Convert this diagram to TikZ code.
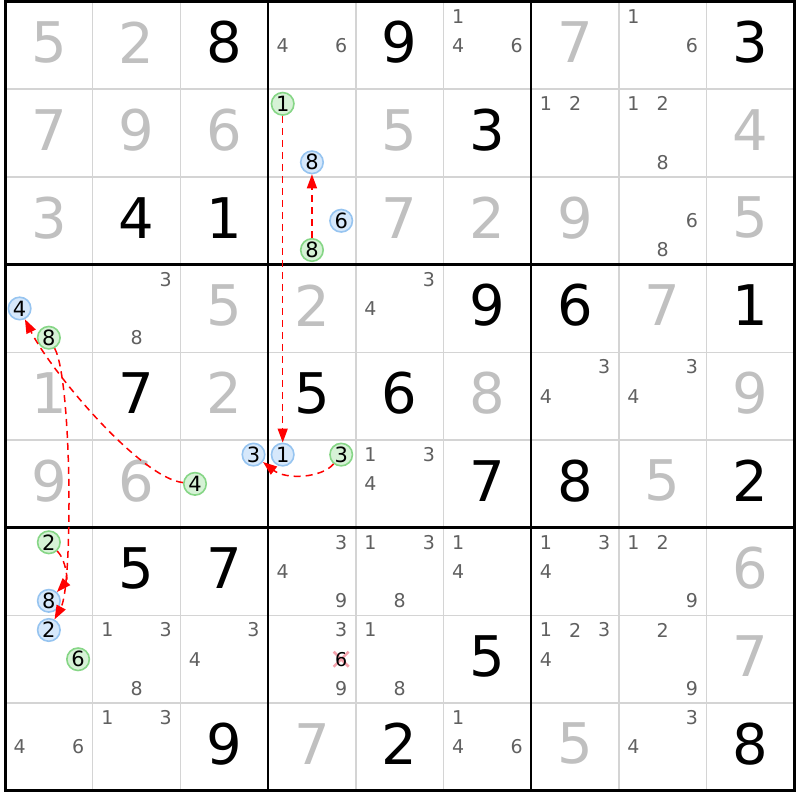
\documentclass[tikz,border=0pt]{standalone}
\usepackage{fontspec}
\setmainfont{DejaVu Sans}
\usetikzlibrary{arrows.meta}
\definecolor{givengray}{HTML}{C0C0C0}
\definecolor{candgray}{HTML}{606060}
\definecolor{gridgray}{HTML}{D4D4D4}
\definecolor{offfill}{HTML}{D6E8FB}
\definecolor{offline}{HTML}{96C4F0}
\definecolor{onfill}{HTML}{D6F2D6}
\definecolor{online}{HTML}{86D686}
\definecolor{strike}{HTML}{F4A2AC}
\newcommand{\bigdigit}{\fontsize{56}{56}\selectfont}
\newcommand{\smalldigit}{\fontsize{19}{19}\selectfont}
\newcommand{\circdigit}{\fontsize{21}{21}\selectfont}
\tikzset{
  given/.style={text=givengray, font=\bigdigit, inner sep=0pt},
  solved/.style={text=black, font=\bigdigit, inner sep=0pt},
  cand/.style={text=candgray, font=\smalldigit, inner sep=0pt},
  offcand/.style={circle, draw=offline, fill=offfill, line width=1.6pt, minimum size=22.5pt, inner sep=0pt, font=\circdigit},
  oncand/.style={circle, draw=online, fill=onfill, line width=1.6pt, minimum size=22.5pt, inner sep=0pt, font=\circdigit},
  linkarrow/.style={red, line width=1.5pt, dash pattern=on 7pt off 5pt, -{Triangle[length=14pt,width=10pt]}}
}

\begin{document}
\begin{tikzpicture}[x=1pt, y=-1pt]
    \useasboundingbox (0,0) rectangle (800,800);
    \fill[white] (0,0) rectangle (800,800);

    \foreach \i in {1,2,4,5,7,8} {
        \draw[gridgray, line width=1.5pt] ({5+87.7*\i},1.5) -- ({5+87.7*\i},790.8);
        \draw[gridgray, line width=1.5pt] (5,{1.5+87.7*\i}) -- (794.3,{1.5+87.7*\i});
    }
    \foreach \i in {3,6} {
        \draw[black, line width=2.5pt] ({5+87.7*\i},1.5) -- ({5+87.7*\i},790.8);
        \draw[black, line width=2.5pt] (5,{1.5+87.7*\i}) -- (794.3,{1.5+87.7*\i});
    }
    \draw[black, line width=3pt] (5,1.5) rectangle (794.3,790.8);

    \foreach \r/\c/\d in {0/0/5,0/1/2,0/6/7,1/0/7,1/1/9,1/2/6,1/4/5,1/8/4,2/0/3,2/4/7,2/5/2,2/6/9,2/8/5,
        3/2/5,3/3/2,3/7/7,4/0/1,4/2/2,4/5/8,4/8/9,5/0/9,5/1/6,5/7/5,6/8/6,7/8/7,8/3/7,8/6/5}
        \node[given] (d\r\c) at ({48.85+87.7*\c},{42.35+87.7*\r}) {\d};
    \foreach \r/\c/\d in {0/2/8,0/4/9,0/8/3,1/5/3,2/1/4,2/2/1,3/5/9,3/6/6,3/8/1,4/1/7,4/3/5,4/4/6,
        5/5/7,5/6/8,5/8/2,6/1/5,6/2/7,7/5/5,8/2/9,8/4/2,8/8/8}
        \node[solved] (d\r\c) at ({48.85+87.7*\c},{42.35+87.7*\r}) {\d};

    \foreach \r/\c/\k in {0/3/4,0/3/6,0/5/1,0/5/4,0/5/6,0/7/1,0/7/6,1/6/1,1/6/2,1/7/1,1/7/2,1/7/8,
        2/7/6,2/7/8,3/1/3,3/1/8,3/4/3,3/4/4,4/6/3,4/6/4,4/7/3,4/7/4,5/4/1,5/4/3,5/4/4,
        6/3/3,6/3/4,6/3/9,6/4/1,6/4/3,6/4/8,6/5/1,6/5/4,6/6/1,6/6/3,6/6/4,6/7/1,6/7/2,6/7/9,
        7/1/1,7/1/3,7/1/8,7/2/3,7/2/4,7/3/3,7/3/9,7/4/1,7/4/8,7/6/1,7/6/2,7/6/3,7/6/4,7/7/2,7/7/9,
        8/0/4,8/0/6,8/1/1,8/1/3,8/5/1,8/5/4,8/5/6,8/7/3,8/7/4} {
        \pgfmathsetmacro\cx{5+87.7*\c+29.233*(mod(\k-1,3)+0.5)}
        \pgfmathsetmacro\cy{1.5+87.7*\r+29.233*(floor((\k-1)/3)+0.5)}
        \node[cand] (c\r\c\k) at (\cx,\cy) {\k};
    }

    \draw[strike, line width=2.5pt] (333.7,651.7) -- (348.7,666.7);
    \draw[strike, line width=2.5pt] (333.7,666.7) -- (348.7,651.7);
    \node[text=black, font=\smalldigit, inner sep=0pt] (x736) at (341.2,659.25) {6};

    \node[oncand] (g1) at (282.7,103.8) {1};
    \node[offcand] (b8) at (311.95,162.3) {8};
    \node[offcand] (b6) at (341.2,220.75) {6};
    \node[oncand] (g8) at (311.95,250) {8};
    \node[offcand] (b4) at (19.6,308.45) {4};
    \node[oncand] (g8b) at (48.85,337.7) {8};
    \node[offcand] (b3) at (253.5,454.6) {3};
    \node[oncand] (g4) at (195,483.85) {4};
    \node[offcand] (b1) at (282.7,454.6) {1};
    \node[oncand] (g3) at (341.2,454.6) {3};
    \node[oncand] (g2) at (48.85,542.3) {2};
    \node[offcand] (b8b) at (48.85,600.8) {8};
    \node[offcand] (b2) at (48.85,630) {2};
    \node[oncand] (g6) at (78.1,659.25) {6};

    \draw[linkarrow] (g8) -- (b8);
    \draw[linkarrow] (g1) -- (b1);
    \draw[linkarrow] (g3) .. controls (322,478) and (286,480) .. (b3);
    \draw[linkarrow] (g4) .. controls (140,478) and (50,370) .. (b4);
    \draw[linkarrow] (g8b) .. controls (72,380) and (73,585) .. (b2);
    \draw[linkarrow] (g2) .. controls (66,560) and (68,580) .. (b8b);
\end{tikzpicture}
\end{document}
